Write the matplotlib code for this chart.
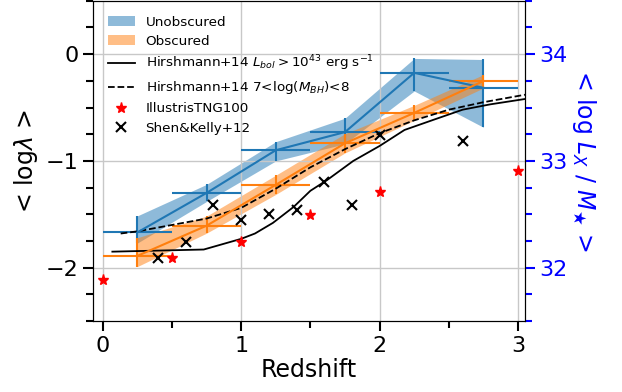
import numpy as np
from matplotlib import pyplot as plt
from matplotlib.ticker import MultipleLocator

# bins in redshift (centres) and half-width
z_bin = [0.25, 0.75, 1.25, 1.75, 2.25, 2.75]
z_hw = [0.25, 0.25, 0.25, 0.25, 0.25, 0.25]

# unobscured
unobs = [-1.67, -1.30, -0.90, -0.73, -0.175, -0.315]
unobs_lo = [0.10, 0.08, 0.10, 0.11, 0.17, 0.37]
unobs_hi = [0.155, 0.08, 0.08, 0.13, 0.135, 0.265]

# obscured
obs = [-1.89, -1.607, -1.224, -0.835, -0.55, -0.252]
obs_lo = [0.10, 0.07, 0.09, 0.09, 0.07, 0.065]
obs_hi = [0.17, 0.09, 0.09, 0.09, 0.07, 0.06]

# Hirshmann+14 models
hir_lbol_z = [0.07, 0.73, 1.0, 1.1, 1.23, 1.38, 1.5, 1.62, 1.81, 2.0, 2.18, 2.4, 2.6, 2.8, 3.05]
hir_lbol = [-1.85, -1.83, -1.73, -1.68, -1.58, -1.43, -1.28, -1.18, -1.0, -0.86, -0.71, -0.61, -0.52, -0.47, -0.42]
hir_mbh_z = [0.13, 0.25, 0.5, 0.75, 1.0, 1.25, 1.5, 1.75, 2.0, 2.25, 2.5, 2.75, 3.05]
hir_mbh = [-1.68, -1.66, -1.60, -1.54, -1.44, -1.26, -1.06, -0.89, -0.74, -0.62, -0.52, -0.45, -0.38]

# IllustrisTNG100
tng_z = [0.0, 0.5, 1.0, 1.5, 2.0, 3.0]
tng = [-2.12, -1.91, -1.76, -1.51, -1.29, -1.09]

# Shen & Kelly 2012
sk_z = [0.4, 0.6, 0.8, 1.0, 1.2, 1.4, 1.6, 1.8, 2.0, 2.6]
sk = [-1.91, -1.76, -1.41, -1.55, -1.50, -1.46, -1.20, -1.41, -0.757, -0.81]

fig = plt.figure(figsize=(6.22, 3.92), dpi=100)
ax = fig.add_axes([0.1495, 0.181, 0.6945, 0.817])

u = np.array(unobs)
o = np.array(obs)
ax.fill_between(z_bin, u - np.array(unobs_lo), u + np.array(unobs_hi),
                color='C0', alpha=0.5, lw=0, label='Unobscured')
ax.errorbar(z_bin, unobs, xerr=z_hw, yerr=[unobs_lo, unobs_hi], color='C0', lw=1.5)
ax.fill_between(z_bin, o - np.array(obs_lo), o + np.array(obs_hi),
                color='C1', alpha=0.5, lw=0, label='Obscured')
ax.errorbar(z_bin, obs, xerr=z_hw, yerr=[obs_lo, obs_hi], color='C1', lw=1.5)

ax.plot(hir_lbol_z, hir_lbol, 'k-', lw=1.3,
        label='Hirshmann+14 $L_{bol}>10^{43}$ erg s$^{-1}$')
ax.plot(hir_mbh_z, hir_mbh, 'k--', lw=1.3,
        label='Hirshmann+14 7<log($M_{BH}$)<8')
ax.plot(tng_z, tng, 'r*', ms=8, ls='none', label='IllustrisTNG100')
ax.plot(sk_z, sk, 'kx', ms=7, mew=1.5, ls='none', label='Shen&Kelly+12')

ax.set_xlim(-0.07, 3.05)
ax.set_ylim(-2.5, 0.5)
ax.xaxis.set_minor_locator(MultipleLocator(0.5))
ax.yaxis.set_minor_locator(MultipleLocator(0.25))
ax.set_xticks([0, 1, 2, 3])
ax.set_yticks([-2, -1, 0])
ax.grid(True, color='#c8c8c8', lw=1)
ax.tick_params(which='major', labelsize=16, length=7, width=1.5)
ax.tick_params(which='minor', length=5, width=1.5)
ax.set_xlabel('Redshift', fontsize=17, labelpad=2)
ax.set_ylabel('< log$\\lambda$ >', fontsize=17)

ax.legend(loc='upper left', frameon=False, fontsize=9.7,
          borderaxespad=0.7, labelspacing=0.45, handlelength=2.0)

ax2 = ax.twinx()
ax2.set_ylim(31.5, 34.5)
ax2.set_yticks([32, 33, 34])
ax2.yaxis.set_minor_locator(MultipleLocator(0.25))
ax2.tick_params(which='major', colors='blue', labelsize=16, length=7, width=1.5)
ax2.tick_params(which='minor', colors='blue', length=5, width=1.5)
ax2.set_ylabel('< log $L_X$ / $M_\\bigstar$ >', color='blue', fontsize=17,
               rotation=270, labelpad=22)

plt.savefig('out.png', dpi=100)
